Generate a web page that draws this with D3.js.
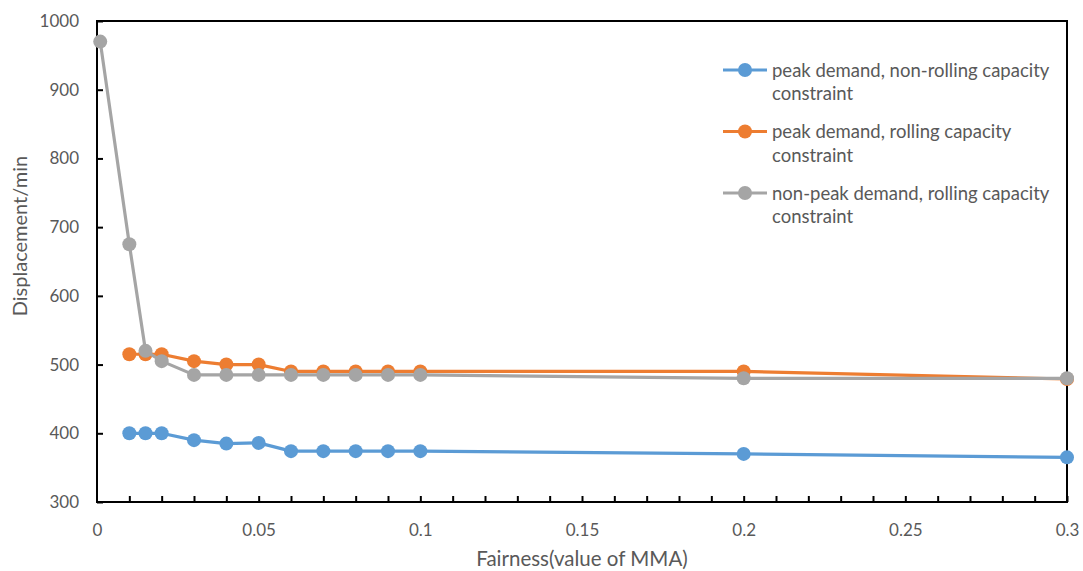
<!DOCTYPE html>
<html><head><meta charset="utf-8">
<script src="https://cdn.jsdelivr.net/npm/d3@7"></script>
<style>body{margin:0;background:#fff}svg{display:block}text{font-family:Lato,"Open Sans",sans-serif;fill:#595959}</style>
</head><body><svg id="c" width="1083" height="571"></svg>
<script>
const seriesNames = ["peak demand, non-rolling capacity constraint","peak demand, rolling capacity constraint","non-peak demand, rolling capacity constraint"];
const legendLines = [["peak demand, non-rolling capacity","constraint"],["peak demand, rolling capacity","constraint"],["non-peak demand, rolling capacity","constraint"]];
const colors = ["#5B9BD5","#ED7D31","#A5A5A5"];
const xBlue = [0.01,0.015,0.02,0.03,0.04,0.05,0.06,0.07,0.08,0.09,0.1,0.2,0.3];
const yBlue = [400,400,400,390,385,386,374,374,374,374,374,370,365];
const xOrange = [0.01,0.015,0.02,0.03,0.04,0.05,0.06,0.07,0.08,0.09,0.1,0.2,0.3];
const yOrange = [515,515,515,505,500,500,490,490,490,490,490,490,479];
const xGray = [0.001,0.01,0.015,0.02,0.03,0.04,0.05,0.06,0.07,0.08,0.09,0.1,0.2,0.3];
const yGray = [970,675,520,505,485,485,485,485,485,485,485,485,480,480];
const xTicks = [0,0.05,0.1,0.15,0.2,0.25,0.3];
const xMinorTicks = d3.range(1,31).map(i=>i/100);
const yTicks = [300,400,500,600,700,800,900,1000];
const xTitle = "Fairness(value of MMA)";
const yTitle = "Displacement/min";

const svg = d3.select("#c");
const L=97,R=1067,T=21,B=502;
const x = d3.scaleLinear().domain([0,0.3]).range([L,R]);
const y = d3.scaleLinear().domain([300,1000]).range([B,T]);

const xa = svg.append("g").attr("transform",`translate(0,${B})`)
  .call(d3.axisBottom(x).tickValues(xMinorTicks).tickSize(-6).tickFormat(""));
xa.select(".domain").remove();
xa.selectAll("line").attr("stroke","#000").attr("stroke-width",2);
const xl = svg.append("g").attr("transform",`translate(0,${B})`)
  .call(d3.axisBottom(x).tickValues(xTicks).tickSize(0).tickPadding(22).tickFormat(d=>d3.format("")(d)));
xl.select(".domain").remove();
xl.selectAll("text").style("font-size","17px").style("font-family","Lato, 'Open Sans', sans-serif").attr("fill","#595959");

const ya = svg.append("g").attr("transform",`translate(${L},0)`)
  .call(d3.axisLeft(y).tickValues(yTicks).tickSize(-6).tickPadding(18).tickFormat(d3.format("d")));
ya.select(".domain").remove();
ya.selectAll("line").attr("stroke","#000").attr("stroke-width",2);
ya.selectAll("text").style("font-size","17px").style("font-family","Lato, 'Open Sans', sans-serif").attr("fill","#595959");

svg.append("rect").attr("x",L).attr("y",T).attr("width",R-L).attr("height",B-T)
  .attr("fill","none").attr("stroke","#000").attr("stroke-width",2);

const data = [
  {xs:xBlue,ys:yBlue},
  {xs:xOrange,ys:yOrange},
  {xs:xGray,ys:yGray}
];
const line = d3.line().x(d=>x(d[0])).y(d=>y(d[1]));
data.forEach((s,i)=>{
  const pts = s.xs.map((v,j)=>[v,s.ys[j]]);
  svg.append("path").datum(pts).attr("d",line).attr("fill","none")
    .attr("stroke",colors[i]).attr("stroke-width",3.2).attr("stroke-linejoin","round");
  svg.append("g").selectAll("circle").data(pts).join("circle")
    .attr("cx",d=>x(d[0])).attr("cy",d=>y(d[1])).attr("r",7).attr("fill",colors[i]);
});

svg.append("text").attr("x",582).attr("y",566).attr("text-anchor","middle")
  .style("font-size","20.5px").text(xTitle);
svg.append("text").attr("transform",`translate(27,${236}) rotate(-90)`).attr("text-anchor","middle")
  .style("font-size","20px").text(yTitle);

const lg = svg.append("g");
legendLines.forEach((ls,i)=>{
  const cy = 70 + i*61.5;
  lg.append("line").attr("x1",723).attr("x2",767).attr("y1",cy).attr("y2",cy)
    .attr("stroke",colors[i]).attr("stroke-width",3.2);
  lg.append("circle").attr("cx",745).attr("cy",cy).attr("r",7).attr("fill",colors[i]);
  ls.forEach((t,k)=>{
    lg.append("text").attr("x",772).attr("y",cy+6.5+k*23.5).style("font-size","18.5px").text(t);
  });
});
</script></body></html>
